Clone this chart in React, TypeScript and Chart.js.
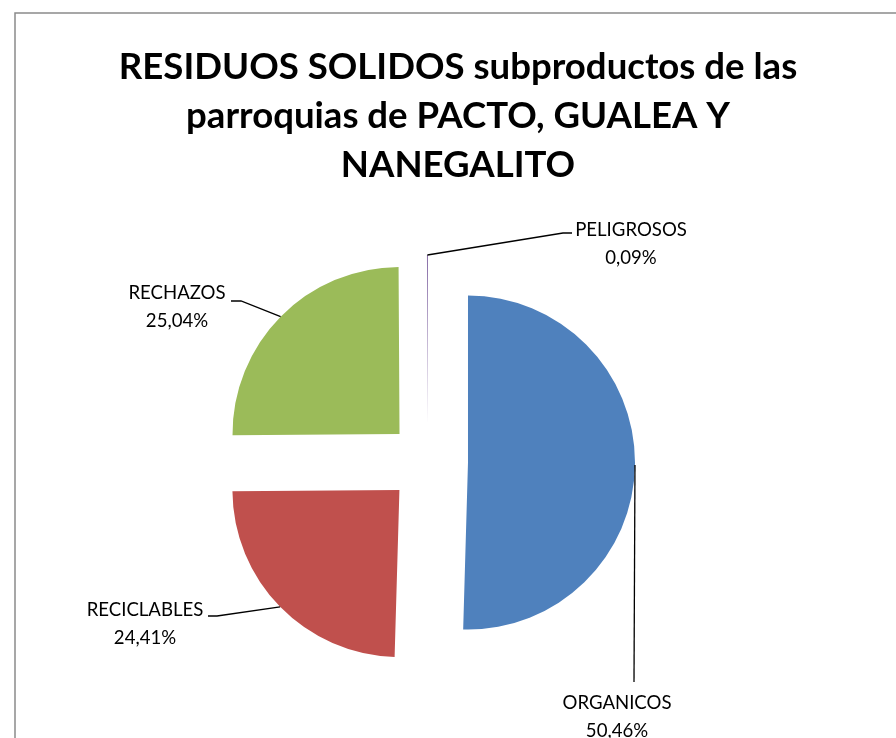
import React, { useEffect, useRef } from 'react';
import { Chart, registerables } from 'chart.js';

Chart.register(...registerables);

const TITLE_LINES = ['RESIDUOS SOLIDOS subproductos de las', 'parroquias de PACTO, GUALEA Y', 'NANEGALITO'];
const CATEGORIES = ['ORGANICOS', 'RECICLABLES', 'RECHAZOS', 'PELIGROSOS'];
const VALUES = [50.46, 24.41, 25.04, 0.09];
const COLORS = ['#4F81BD', '#C0504D', '#9BBB59', '#8064A2'];

// style: explosion distance and label placement (text centre x, first baseline y, leader points after the arc anchor)
const EXPLODE = 40;
const LABEL_LAYOUT = [
  { x: 617, y: 709, pts: [[634, 682]] },
  { x: 145, y: 616, pts: [[217, 616], [208, 616]] },
  { x: 177, y: 299, pts: [[241, 301], [231, 301]] },
  { x: 631, y: 236, pts: [[563, 233], [572, 233]] },
];
const TITLE_FONT = 'bold 36.6px Lato';
const LABEL_FONT = '18.6px Lato';

const fmt = (v: number) => v.toFixed(2).replace('.', ',') + '%';

const explodePlugin = {
  id: 'explode',
  afterDatasetsUpdate(chart: any) {
    const meta = chart.getDatasetMeta(0);
    meta.data.forEach((arc: any) => {
      const mid = (arc.startAngle + arc.endAngle) / 2;
      arc.x += Math.cos(mid) * EXPLODE;
      arc.y += Math.sin(mid) * EXPLODE;
    });
  },
};

const decorPlugin = {
  id: 'decor',
  beforeDraw(chart: any) {
    const ctx = chart.ctx;
    ctx.save();
    ctx.fillStyle = '#ffffff';
    ctx.fillRect(0, 0, chart.width, chart.height);
    ctx.strokeStyle = '#8a8a8a';
    ctx.lineWidth = 1.5;
    ctx.strokeRect(15, 13, 1000, 1000);
    ctx.restore();
  },
  afterDraw(chart: any) {
    const ctx = chart.ctx;
    ctx.save();
    ctx.fillStyle = '#000';
    ctx.textAlign = 'center';
    ctx.textBaseline = 'alphabetic';
    ctx.font = TITLE_FONT;
    TITLE_LINES.forEach((t, i) => ctx.fillText(t, 458, 79 + i * 49));

    const meta = chart.getDatasetMeta(0);
    ctx.font = LABEL_FONT;
    meta.data.forEach((arc: any, i: number) => {
      const mid = (arc.startAngle + arc.endAngle) / 2;
      const sx = arc.x + Math.cos(mid) * arc.outerRadius;
      const sy = arc.y + Math.sin(mid) * arc.outerRadius;
      const lay = LABEL_LAYOUT[i];
      ctx.strokeStyle = '#000';
      ctx.lineWidth = 1.3;
      ctx.beginPath();
      ctx.moveTo(sx, sy);
      lay.pts.forEach((p) => ctx.lineTo(p[0], p[1]));
      ctx.stroke();
      ctx.fillStyle = '#000';
      ctx.fillText(CATEGORIES[i], lay.x, lay.y);
      ctx.fillText(fmt(VALUES[i]), lay.x, lay.y + 28);
    });
    ctx.restore();
  },
};

export default function App() {
  const ref = useRef<HTMLCanvasElement | null>(null);
  useEffect(() => {
    if (!ref.current) return;
    const chart = new Chart(ref.current, {
      type: 'pie',
      data: {
        labels: CATEGORIES,
        datasets: [
          {
            data: VALUES,
            backgroundColor: COLORS,
            borderWidth: 0,
          },
        ],
      },
      options: {
        responsive: false,
        animation: false,
        layout: { padding: { left: 261, right: 301, top: 295, bottom: 109 } },
        plugins: { legend: { display: false }, tooltip: { enabled: false }, title: { display: false } },
      },
      plugins: [explodePlugin, decorPlugin],
    });
    return () => chart.destroy();
  }, []);
  return (
    <div style={{ position: 'fixed', left: 0, top: 0, width: 896, height: 738, background: '#fff' }}>
      <canvas ref={ref} width={896} height={738} />
    </div>
  );
}
